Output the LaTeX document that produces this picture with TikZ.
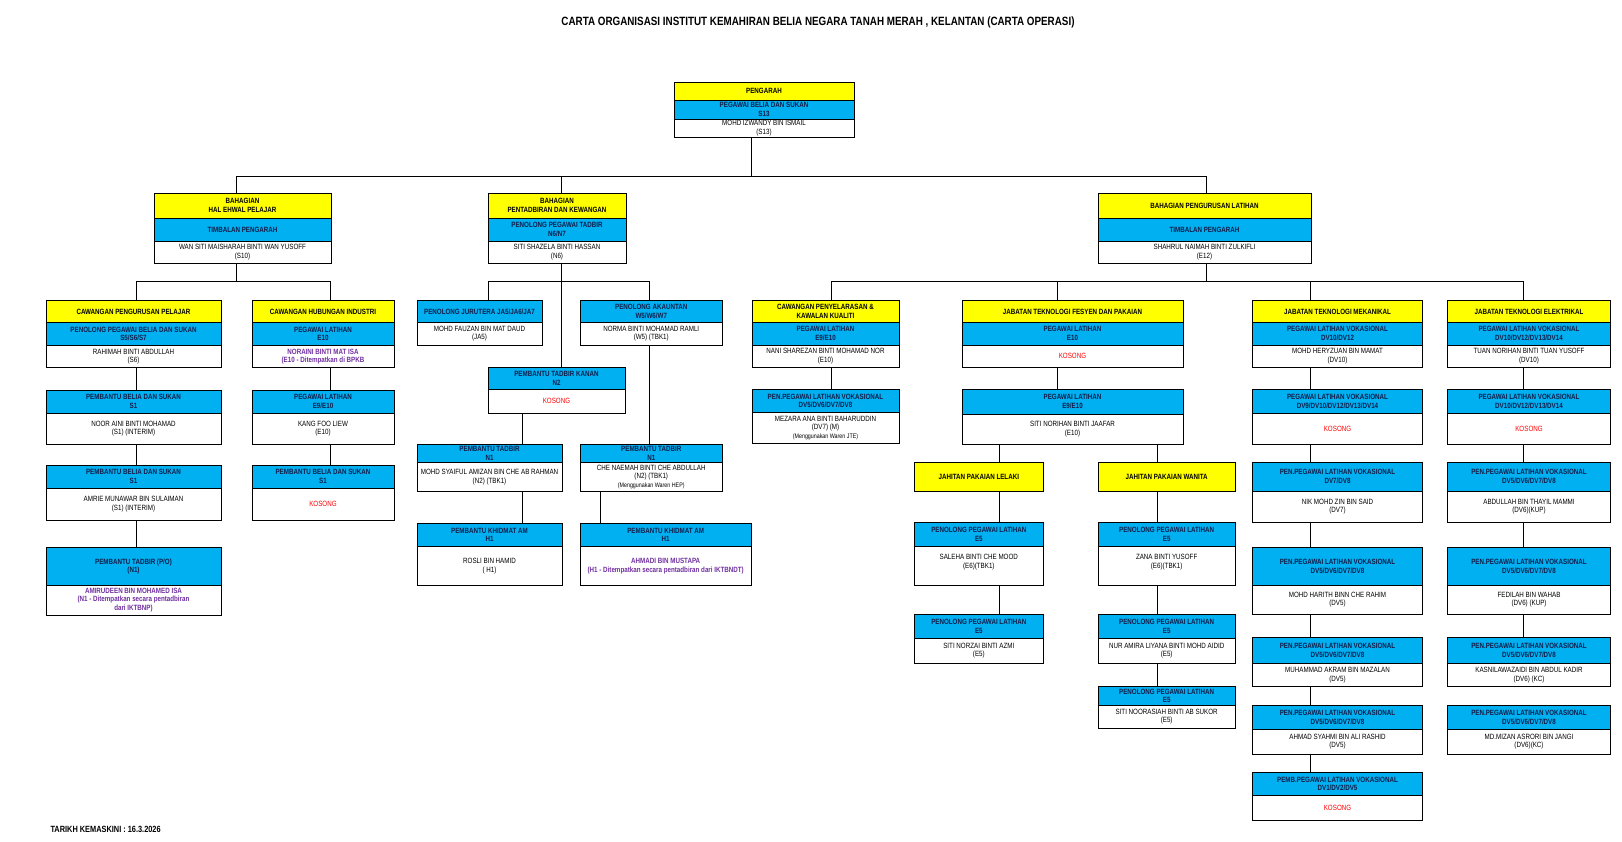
\documentclass[tikz,border=0pt]{standalone}
\usepackage{fontspec}
\setmainfont{Liberation Sans}[FakeStretch=0.82]
\usepackage{xcolor}
\usepackage{tikz}
\definecolor{hdryellow}{RGB}{255,255,0}
\definecolor{hdrblue}{RGB}{0,176,240}
\definecolor{navytext}{RGB}{20,30,75}
\definecolor{namepurple}{RGB}{112,48,160}
\definecolor{vacantred}{RGB}{255,0,0}

\begin{document}
\begin{tikzpicture}[
    x=1pt, y=-1pt,
    cell/.style={draw=black, line width=0.9pt, anchor=north west, inner sep=0pt, outer sep=0pt, align=center, font=\fontsize{7.6}{8.6}\selectfont},
    ylw/.style={cell, fill=hdryellow, font=\fontsize{7.6}{8.6}\selectfont\bfseries},
    blu/.style={cell, fill=hdrblue, text=navytext, font=\fontsize{7.6}{8.6}\selectfont\bfseries},
    wht/.style={cell, fill=white},
    nm/.style={cell, fill=white, text=namepurple, font=\fontsize{7.6}{8.6}\selectfont\bfseries},
    kos/.style={cell, fill=white, text=vacantred},
    sz/.style 2 args={minimum width=#1, minimum height=#2},
    link/.style={line width=0.9pt}
]
\useasboundingbox (0,0) rectangle (1622,842);

\node[font=\fontsize{12}{14}\selectfont\bfseries] (title) at (818,22) {CARTA ORGANISASI INSTITUT KEMAHIRAN BELIA NEGARA TANAH MERAH , KELANTAN (CARTA OPERASI)};
\node[anchor=west, font=\fontsize{9}{11}\selectfont\bfseries] (date) at (47,829) {TARIKH KEMASKINI : 16.3.2026};

% pengarah
\node[ylw, sz={180}{18}] (dirY) at (674,82) {PENGARAH};
\node[blu, sz={180}{19}] (dirB) at (674,100) {PEGAWAI BELIA DAN SUKAN\\S13};
\node[wht, sz={180}{18}] (dirW) at (674,119) {MOHD IZWANDY BIN ISMAIL\\(S13)};

% bahagian
\node[ylw, sz={177}{25}] (hepY) at (154,193) {BAHAGIAN\\HAL EHWAL PELAJAR};
\node[blu, sz={177}{23}] (hepB) at (154,218) {TIMBALAN PENGARAH};
\node[wht, sz={177}{22}] (hepW) at (154,241) {WAN SITI MAISHARAH BINTI WAN YUSOFF\\(S10)};

\node[ylw, sz={138}{25}] (pkY) at (488,193) {BAHAGIAN\\PENTADBIRAN DAN KEWANGAN};
\node[blu, sz={138}{23}] (pkB) at (488,218) {PENOLONG PEGAWAI TADBIR\\N6/N7};
\node[wht, sz={138}{22}] (pkW) at (488,241) {SITI SHAZELA BINTI HASSAN\\(N6)};

\node[ylw, sz={213}{25}] (plY) at (1098,193) {BAHAGIAN PENGURUSAN LATIHAN};
\node[blu, sz={213}{23}] (plB) at (1098,218) {TIMBALAN PENGARAH};
\node[wht, sz={213}{22}] (plW) at (1098,241) {SHAHRUL NAIMAH BINTI ZULKIFLI\\(E12)};

% hal ehwal pelajar
\node[ylw, sz={175}{22}] (cppY) at (46,300.7) {CAWANGAN PENGURUSAN PELAJAR};
\node[blu, sz={175}{22.6}] (cppB) at (46,322.7) {PENOLONG PEGAWAI BELIA DAN SUKAN\\S5/S6/S7};
\node[wht, sz={175}{22.4}] (cppW) at (46,345.3) {RAHIMAH BINTI ABDULLAH\\(S6)};
\node[blu, sz={175}{23.3}] (pbs1B) at (46,390) {PEMBANTU BELIA DAN SUKAN\\S1};
\node[wht, sz={175}{31}] (pbs1W) at (46,413.3) {NOOR AINI BINTI MOHAMAD\\(S1) (INTERIM)};
\node[blu, sz={175}{23.3}] (pbs2B) at (46,465) {PEMBANTU BELIA DAN SUKAN\\S1};
\node[wht, sz={175}{31.7}] (pbs2W) at (46,488.3) {AMRIE MUNAWAR BIN SULAIMAN\\(S1) (INTERIM)};
\node[blu, sz={175}{37.3}] (ptpoB) at (46,547.7) {PEMBANTU TADBIR (P/O)\\(N1)};
\node[nm, sz={175}{30}] (ptpoW) at (46,585) {AMIRUDEEN BIN MOHAMED ISA\\(N1 - Ditempatkan secara pentadbiran\\dari IKTBNP)};

\node[ylw, sz={142}{22}] (chiY) at (252,300.7) {CAWANGAN HUBUNGAN INDUSTRI};
\node[blu, sz={142}{22.6}] (chiB) at (252,322.7) {PEGAWAI LATIHAN\\E10};
\node[nm, sz={142}{22.4}] (chiW) at (252,345.3) {NORAINI BINTI MAT ISA\\(E10 - Ditempatkan di BPKB};
\node[blu, sz={142}{23.3}] (plt1B) at (252,390) {PEGAWAI LATIHAN\\E9/E10};
\node[wht, sz={142}{31}] (plt1W) at (252,413.3) {KANG FOO LIEW\\(E10)};
\node[blu, sz={142}{23.3}] (pbs3B) at (252,465) {PEMBANTU BELIA DAN SUKAN\\S1};
\node[kos, sz={142}{31.7}] (pbs3W) at (252,488.3) {KOSONG};

% pentadbiran dan kewangan
\node[blu, sz={125}{21.6}] (pjB) at (417,300.7) {PENOLONG JURUTERA JA5/JA6/JA7};
\node[wht, sz={125}{22.7}] (pjW) at (417,322.3) {MOHD FAUZAN BIN MAT DAUD\\(JA5)};
\node[blu, sz={142.5}{21.6}] (paB) at (580,300.7) {PENOLONG AKAUNTAN\\W5/W6/W7};
\node[wht, sz={142.5}{22.7}] (paW) at (580,322.3) {NORMA BINTI MOHAMAD RAMLI\\(W5) (TBK1)};
\node[blu, sz={137}{22}] (ptkB) at (488,367.3) {PEMBANTU TADBIR KANAN\\N2};
\node[kos, sz={137}{24}] (ptkW) at (488,389.3) {KOSONG};
\node[blu, sz={145}{18.3}] (pt1B) at (417,444) {PEMBANTU TADBIR\\N1};
\node[wht, sz={145}{29.4}] (pt1W) at (417,462.3) {MOHD SYAIFUL AMIZAN BIN CHE AB RAHMAN\\(N2) (TBK1)};
\node[blu, sz={142.5}{18.3}] (pt2B) at (580,444) {PEMBANTU TADBIR\\N1};
\node[wht, sz={142.5}{29.4}] (pt2W) at (580,462.3) {CHE NAEMAH BINTI CHE ABDULLAH\\(N2) (TBK1)\\{\fontsize{6.5}{7.5}\selectfont(Menggunakan Waren HEP)}};
\node[blu, sz={145}{23.4}] (pka1B) at (417,523.3) {PEMBANTU KHIDMAT AM\\H1};
\node[wht, sz={145}{39.1}] (pka1W) at (417,546.7) {ROSLI BIN HAMID\\( H1)};
\node[blu, sz={171.4}{23.4}] (pka2B) at (580,523.3) {PEMBANTU KHIDMAT AM\\H1};
\node[nm, sz={171.4}{39.1}] (pka2W) at (580,546.7) {AHMADI BIN MUSTAPA\\(H1 - Ditempatkan secara pentadbiran dari IKTBNDT)};

% pengurusan latihan
\node[ylw, sz={147}{21.6}] (cpkY) at (752,300.7) {CAWANGAN PENYELARASAN \&\\KAWALAN KUALITI};
\node[blu, sz={147}{22.7}] (cpkB) at (752,322.3) {PEGAWAI LATIHAN\\E9/E10};
\node[wht, sz={147}{22.3}] (cpkW) at (752,345) {NANI SHAREZAN BINTI MOHAMAD NOR\\(E10)};
\node[blu, sz={147}{23.4}] (ppvB) at (752,389.3) {PEN.PEGAWAI LATIHAN VOKASIONAL\\DV5/DV6/DV7/DV8};
\node[wht, sz={147}{30.3}] (ppvW) at (752,412.7) {MEZARA ANA BINTI BAHARUDDIN\\(DV7) (M)\\{\fontsize{6.5}{7.5}\selectfont(Menggunakan Waren JTE)}};

\node[ylw, sz={221}{21.6}] (jtfY) at (962,300.7) {JABATAN TEKNOLOGI FESYEN DAN PAKAIAN};
\node[blu, sz={221}{22.7}] (jtfB) at (962,322.3) {PEGAWAI LATIHAN\\E10};
\node[kos, sz={221}{22.3}] (jtfW) at (962,345) {KOSONG};
\node[blu, sz={221}{24.7}] (plfB) at (962,389.3) {PEGAWAI LATIHAN\\E9/E10};
\node[wht, sz={221}{30}] (plfW) at (962,414) {SITI NORIHAN BINTI JAAFAR\\(E10)};

\node[ylw, sz={129}{28.7}] (jplY) at (914.3,462.3) {JAHITAN PAKAIAN LELAKI};
\node[blu, sz={129}{24.4}] (ppl1B) at (914.3,522.3) {PENOLONG PEGAWAI LATIHAN\\E5};
\node[wht, sz={129}{38.3}] (ppl1W) at (914.3,546.7) {SALEHA BINTI CHE MOOD\\(E6)(TBK1)\\~};
\node[blu, sz={129}{24.3}] (ppl2B) at (914.3,614) {PENOLONG PEGAWAI LATIHAN\\E5};
\node[wht, sz={129}{25}] (ppl2W) at (914.3,638.3) {SITI NORZAI BINTI AZMI\\(E5)};

\node[ylw, sz={136.7}{28.7}] (jpwY) at (1098.3,462.3) {JAHITAN PAKAIAN WANITA};
\node[blu, sz={136.7}{24.4}] (ppw1B) at (1098.3,522.3) {PENOLONG PEGAWAI LATIHAN\\E5};
\node[wht, sz={136.7}{38.3}] (ppw1W) at (1098.3,546.7) {ZANA BINTI YUSOFF\\(E6)(TBK1)\\~};
\node[blu, sz={136.7}{24.3}] (ppw2B) at (1098.3,614) {PENOLONG PEGAWAI LATIHAN\\E5};
\node[wht, sz={136.7}{25}] (ppw2W) at (1098.3,638.3) {NUR AMIRA LIYANA BINTI MOHD AIDID\\(E5)};
\node[blu, sz={136.7}{18.3}] (ppw3B) at (1098.3,686.7) {PENOLONG PEGAWAI LATIHAN\\E5};
\node[wht, sz={136.7}{23.6}] (ppw3W) at (1098.3,705) {SITI NOORASIAH BINTI AB SUKOR\\(E5)};

% mekanikal
\node[ylw, sz={170.4}{21.6}] (jtmY) at (1252.3,300.7) {JABATAN TEKNOLOGI MEKANIKAL};
\node[blu, sz={170.4}{22.7}] (jtmB) at (1252.3,322.3) {PEGAWAI LATIHAN VOKASIONAL\\DV10/DV12};
\node[wht, sz={170.4}{22.3}] (jtmW) at (1252.3,345) {MOHD HERYZUAN BIN MAMAT\\(DV10)};
\node[blu, sz={170.4}{24}] (mek2B) at (1252.3,389.3) {PEGAWAI LATIHAN VOKASIONAL\\DV9/DV10/DV12/DV13/DV14};
\node[kos, sz={170.4}{30.7}] (mek2W) at (1252.3,413.3) {KOSONG};
\node[blu, sz={170.4}{28.7}] (mek3B) at (1252.3,462.3) {PEN.PEGAWAI LATIHAN VOKASIONAL\\DV7/DV8};
\node[wht, sz={170.4}{31.3}] (mek3W) at (1252.3,491) {NIK MOHD ZIN BIN SAID\\(DV7)};
\node[blu, sz={170.4}{37.7}] (mek4B) at (1252.3,547.3) {PEN.PEGAWAI LATIHAN VOKASIONAL\\DV5/DV6/DV7/DV8};
\node[wht, sz={170.4}{29.3}] (mek4W) at (1252.3,585) {MOHD HARITH BINN CHE RAHIM\\(DV5)};
\node[blu, sz={170.4}{26}] (mek5B) at (1252.3,637.3) {PEN.PEGAWAI LATIHAN VOKASIONAL\\DV5/DV6/DV7/DV8};
\node[wht, sz={170.4}{23.4}] (mek5W) at (1252.3,663.3) {MUHAMMAD AKRAM BIN MAZALAN\\(DV5)};
\node[blu, sz={170.4}{23.7}] (mek6B) at (1252.3,705.3) {PEN.PEGAWAI LATIHAN VOKASIONAL\\DV5/DV6/DV7/DV8};
\node[wht, sz={170.4}{25.3}] (mek6W) at (1252.3,729) {AHMAD SYAHMI BIN ALI RASHID\\(DV5)};
\node[blu, sz={170.4}{23.4}] (mek7B) at (1252.3,772.3) {PEMB.PEGAWAI LATIHAN VOKASIONAL\\DV1/DV2/DV5};
\node[kos, sz={170.4}{25}] (mek7W) at (1252.3,795.7) {KOSONG};

% elektrikal
\node[ylw, sz={163.4}{21.6}] (jteY) at (1447.3,300.7) {JABATAN TEKNOLOGI ELEKTRIKAL};
\node[blu, sz={163.4}{22.7}] (jteB) at (1447.3,322.3) {PEGAWAI LATIHAN VOKASIONAL\\DV10/DV12/DV13/DV14};
\node[wht, sz={163.4}{22.3}] (jteW) at (1447.3,345) {TUAN NORIHAN BINTI TUAN YUSOFF\\(DV10)};
\node[blu, sz={163.4}{24}] (ele2B) at (1447.3,389.3) {PEGAWAI LATIHAN VOKASIONAL\\DV10/DV12/DV13/DV14};
\node[kos, sz={163.4}{30.7}] (ele2W) at (1447.3,413.3) {KOSONG};
\node[blu, sz={163.4}{28.7}] (ele3B) at (1447.3,462.3) {PEN.PEGAWAI LATIHAN VOKASIONAL\\DV5/DV6/DV7/DV8};
\node[wht, sz={163.4}{31.3}] (ele3W) at (1447.3,491) {ABDULLAH BIN THAYIL MAMMI\\(DV6)(KUP)};
\node[blu, sz={163.4}{37.7}] (ele4B) at (1447.3,547.3) {PEN.PEGAWAI LATIHAN VOKASIONAL\\DV5/DV6/DV7/DV8};
\node[wht, sz={163.4}{29.3}] (ele4W) at (1447.3,585) {FEDILAH BIN WAHAB\\(DV6) (KUP)};
\node[blu, sz={163.4}{26}] (ele5B) at (1447.3,637.3) {PEN.PEGAWAI LATIHAN VOKASIONAL\\DV5/DV6/DV7/DV8};
\node[wht, sz={163.4}{23.4}] (ele5W) at (1447.3,663.3) {KASNILAWAZAIDI BIN ABDUL KADIR\\(DV6) (KC)};
\node[blu, sz={163.4}{23.7}] (ele6B) at (1447.3,705.3) {PEN.PEGAWAI LATIHAN VOKASIONAL\\DV5/DV6/DV7/DV8};
\node[wht, sz={163.4}{25.3}] (ele6W) at (1447.3,729) {MD.MIZAN ASRORI BIN JANGI\\(DV6)(KC)};

% connectors
\coordinate (tb0) at (751.4,176);
\coordinate (tbL) at (236.7,176);
\coordinate (tbM) at (561.7,176);
\coordinate (tbR) at (1206,176);
\draw[link] (dirW.south -| tb0) -- (tb0);
\draw[link] (tbL) -- (tbR);
\draw[link] (tbL) -- (hepY.north -| tbL);
\draw[link] (tbM) -- (pkY.north -| tbM);
\draw[link] (tbR) -- (plY.north -| tbR);

\coordinate (lb0) at (236.7,281);
\coordinate (lbL) at (136,281);
\coordinate (lbR) at (330.3,281);
\draw[link] (hepW.south -| lb0) -- (lb0);
\draw[link] (cppY.north -| lbL) -- (lbL) -- (lbR) -- (chiY.north -| lbR);
\draw[link] (cppW.south -| lbL) -- (pbs1B.north -| lbL);
\draw[link] (pbs1W.south -| lbL) -- (pbs2B.north -| lbL);
\draw[link] (pbs2W.south -| lbL) -- (ptpoB.north -| lbL);
\draw[link] (chiW.south -| lbR) -- (plt1B.north -| lbR);
\draw[link] (plt1W.south -| lbR) -- (pbs3B.north -| lbR);

\coordinate (mb0) at (561.7,281);
\coordinate (mbL) at (488.3,281);
\coordinate (mbR) at (649.3,281);
\coordinate (mcL) at (522.7,0);
\coordinate (mcR) at (600.7,0);
\draw[link] (pkW.south -| mb0) -- (ptkB.north -| mb0);
\draw[link] (pjB.north -| mbL) -- (mbL) -- (mbR) -- (paB.north -| mbR);
\draw[link] (paW.south -| mbR) -- (pt2B.north -| mbR);
\draw[link] (ptkW.south -| mcL) -- (pt1B.north -| mcL);
\draw[link] (pt1W.south -| mcL) -- (pka1B.north -| mcL);
\draw[link] (pt2W.south -| mcR) -- (pka2B.north -| mcR);

\coordinate (rb0) at (1206,281);
\coordinate (rbL) at (831,281);
\coordinate (rbF) at (1057,281);
\coordinate (rbM) at (1310,281);
\coordinate (rbE) at (1523.3,281);
\coordinate (fl) at (999.3,0);
\coordinate (fw) at (1157.3,0);
\draw[link] (plW.south -| rb0) -- (rb0);
\draw[link] (cpkY.north -| rbL) -- (rbL) -- (rbE) -- (jteY.north -| rbE);
\draw[link] (rbF) -- (jtfY.north -| rbF);
\draw[link] (rbM) -- (jtmY.north -| rbM);
\draw[link] (cpkW.south -| rbL) -- (ppvB.north -| rbL);
\draw[link] (jtfW.south -| rbF) -- (plfB.north -| rbF);
\draw[link] (plfW.south -| fl) -- (jplY.north -| fl);
\draw[link] (jplY.south -| fl) -- (ppl1B.north -| fl);
\draw[link] (ppl1W.south -| fl) -- (ppl2B.north -| fl);
\draw[link] (plfW.south -| fw) -- (jpwY.north -| fw);
\draw[link] (jpwY.south -| fw) -- (ppw1B.north -| fw);
\draw[link] (ppw1W.south -| fw) -- (ppw2B.north -| fw);
\draw[link] (ppw2W.south -| fw) -- (ppw3B.north -| fw);

\draw[link] (jtmW.south -| rbM) -- (mek2B.north -| rbM);
\draw[link] (mek2W.south -| rbM) -- (mek3B.north -| rbM);
\draw[link] (mek3W.south -| rbM) -- (mek4B.north -| rbM);
\draw[link] (mek4W.south -| rbM) -- (mek5B.north -| rbM);
\draw[link] (mek5W.south -| rbM) -- (mek6B.north -| rbM);
\draw[link] (mek6W.south -| rbM) -- (mek7B.north -| rbM);

\draw[link] (jteW.south -| rbE) -- (ele2B.north -| rbE);
\draw[link] (ele2W.south -| rbE) -- (ele3B.north -| rbE);
\draw[link] (ele3W.south -| rbE) -- (ele4B.north -| rbE);
\draw[link] (ele4W.south -| rbE) -- (ele5B.north -| rbE);

\end{tikzpicture}
\end{document}
